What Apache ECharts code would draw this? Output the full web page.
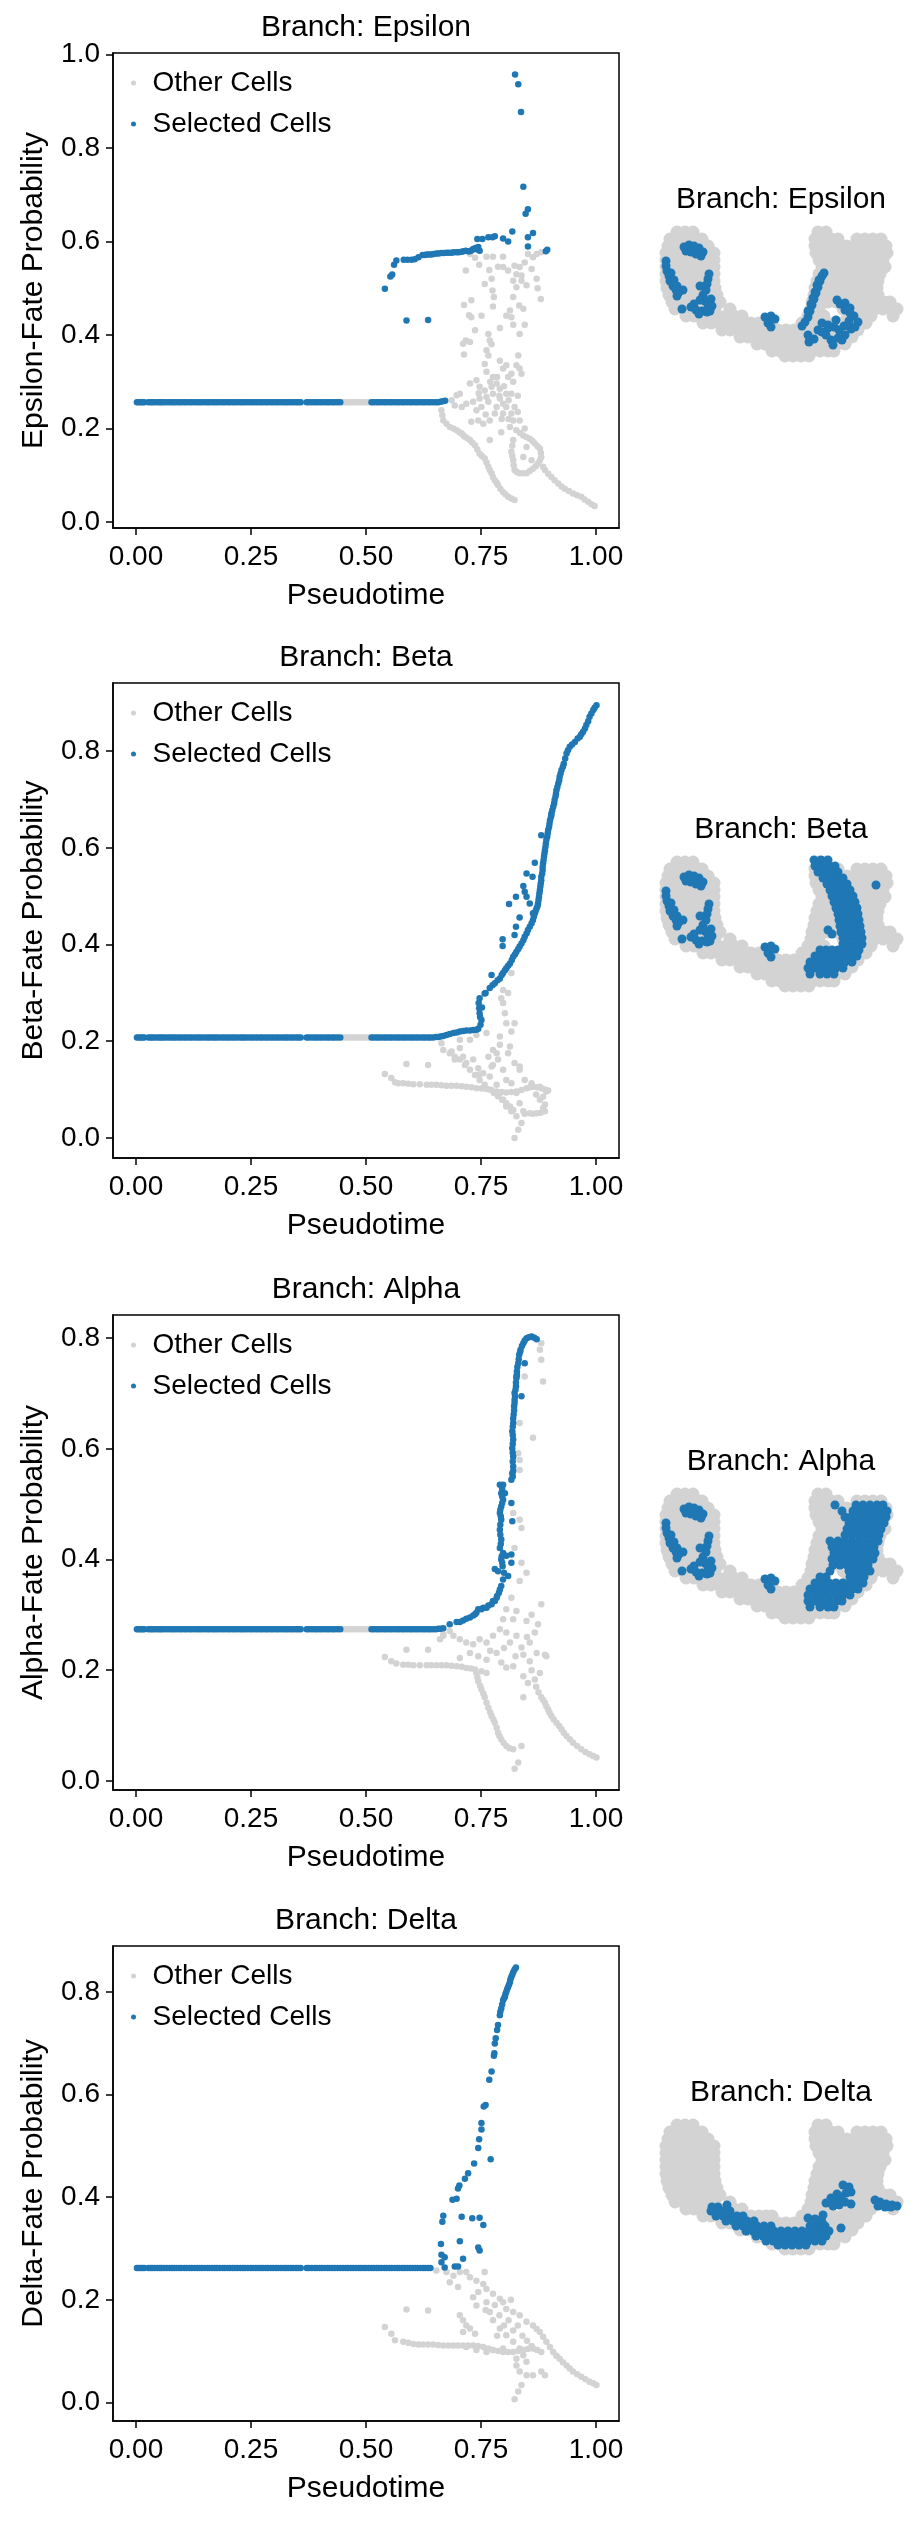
<!DOCTYPE html>
<html>
<head>
<meta charset="utf-8">
<title>Branch fate probabilities</title>
<script src="https://cdn.jsdelivr.net/npm/echarts@6/dist/echarts.min.js"></script>
<style>
  html, body { margin: 0; padding: 0; background: #fff; }
  #main { width: 923px; height: 2521px; }
</style>
</head>
<body>
<div id="main"></div>
<script>
// ---------------- data ----------------
var branches = ['Epsilon', 'Beta', 'Alpha', 'Delta'];
var xTicks = [0, 0.25, 0.5, 0.75, 1];
var yTicks = [
  [0, 0.2, 0.4, 0.6, 0.8, 1.0],
  [0, 0.2, 0.4, 0.6, 0.8],
  [0, 0.2, 0.4, 0.6, 0.8],
  [0, 0.2, 0.4, 0.6, 0.8]
];

// pseudotime of the early (undecided) cells, selected in every branch
var earlyX = [0.002,0.006,0.010,0.014,0.018,
  0.027,0.032,0.036,0.041,0.047,0.052,0.056,0.061,0.067,0.073,0.078,0.083,0.088,0.094,0.099,
  0.105,0.110,0.116,0.121,0.127,0.133,0.138,0.143,0.149,0.155,0.160,0.166,0.171,0.176,0.182,
  0.188,0.193,0.199,0.204,0.210,0.215,0.221,0.227,0.232,0.237,0.243,0.249,0.254,0.260,0.265,
  0.271,0.276,0.282,0.287,0.293,0.298,0.304,0.309,0.315,0.321,0.326,0.331,0.337,0.342,0.348,
  0.353,0.358,
  0.371,0.376,0.382,0.388,0.393,0.399,0.404,0.410,0.416,0.421,0.427,0.432,0.438,0.444,
  0.512,0.517,0.523,0.528,0.534,0.540,0.545,0.551,0.556,0.562,0.568,0.573,0.579,0.584,0.590,
  0.596,0.601,0.607,0.612,0.618,0.624,0.629,0.635,0.640];
// early cells only selected for Delta
var midX = [0.450,0.456,0.461,0.467,0.472,0.478,0.484,0.489,0.495,0.500,0.506];
// fate probability of the early cells in each branch
var baseProb = [0.256, 0.208, 0.274, 0.262];

var epsilonSelected = [
  [0.646,0.256],[0.652,0.256],[0.657,0.256],[0.662,0.257],[0.667,0.258],[0.672,0.259],
  [0.824,0.957],[0.831,0.936],[0.837,0.877],[0.842,0.717],[0.852,0.669],[0.847,0.659],
  [0.818,0.621],[0.863,0.618],[0.852,0.609],[0.852,0.589],[0.894,0.582],[0.891,0.579],
  [0.809,0.600],[0.798,0.606],[0.742,0.605],[0.753,0.605],[0.766,0.609],[0.775,0.609],[0.780,0.611],
  [0.623,0.571],[0.632,0.572],[0.642,0.572],[0.653,0.574],[0.664,0.575],[0.675,0.576],[0.686,0.576],
  [0.697,0.577],[0.708,0.578],[0.717,0.580],[0.726,0.579],[0.733,0.584],[0.740,0.583],[0.747,0.580],
  [0.744,0.588],[0.738,0.586],[0.614,0.566],[0.628,0.571],[0.637,0.572],[0.647,0.573],[0.658,0.574],
  [0.669,0.575],[0.680,0.576],[0.691,0.577],[0.702,0.577],[0.712,0.579],[0.722,0.579],[0.730,0.581],
  [0.606,0.562],[0.599,0.561],[0.590,0.561],[0.582,0.561],[0.566,0.559],[0.561,0.550],[0.557,0.529],
  [0.553,0.525],[0.541,0.499],[0.588,0.431],[0.635,0.432]
];
var epsilonOther = [
  [0.726,0.573],[0.737,0.565],[0.746,0.550],[0.762,0.567],[0.776,0.567],[0.768,0.539],[0.787,0.546],
  [0.798,0.567],[0.798,0.545],[0.809,0.538],[0.823,0.548],[0.834,0.545],[0.845,0.555],[0.852,0.573],
  [0.863,0.566],[0.871,0.573],[0.881,0.577],[0.860,0.541],[0.717,0.538],[0.827,0.530],[0.838,0.527],
  [0.758,0.509],[0.773,0.520],[0.775,0.495],[0.778,0.481],[0.776,0.461],[0.820,0.516],[0.827,0.502],
  [0.820,0.481],[0.838,0.516],[0.849,0.506],[0.871,0.520],[0.873,0.500],[0.880,0.477],[0.713,0.464],
  [0.729,0.474],[0.724,0.442],[0.729,0.438],[0.751,0.441],[0.805,0.441],[0.813,0.452],[0.816,0.438],
  [0.833,0.463],[0.842,0.456],[0.820,0.422],[0.845,0.422],[0.834,0.402],[0.791,0.415],[0.766,0.402],
  [0.769,0.388],[0.737,0.410],[0.717,0.388],[0.711,0.381],[0.726,0.385],[0.773,0.380],[0.762,0.367],
  [0.766,0.356],[0.713,0.358],[0.758,0.338],[0.762,0.321],[0.791,0.345],[0.798,0.328],[0.805,0.335],
  [0.816,0.317],[0.831,0.356],[0.827,0.335],[0.834,0.328],[0.838,0.317],
  [0.726,0.296],[0.740,0.303],[0.747,0.289],[0.758,0.281],[0.773,0.289],[0.784,0.296],[0.791,0.285],
  [0.805,0.274],[0.816,0.274],[0.809,0.310],[0.776,0.310],[0.762,0.267],[0.747,0.264],[0.733,0.257],
  [0.704,0.274],[0.697,0.271],[0.686,0.260],[0.693,0.249],[0.708,0.246],[0.718,0.253],[0.664,0.239],
  [0.668,0.217],[0.682,0.203],[0.697,0.196],[0.708,0.189],[0.715,0.182],[0.729,0.214],[0.744,0.217],
  [0.755,0.210],[0.769,0.217],[0.780,0.232],[0.784,0.246],[0.798,0.232],[0.805,0.246],[0.816,0.232],
  [0.823,0.246],[0.820,0.217],[0.834,0.217],[0.794,0.192],[0.769,0.175],[0.766,0.257],[0.791,0.264],
  [0.798,0.253],[0.776,0.274],[0.751,0.246],[0.740,0.239],
  [0.790,0.270],[0.800,0.290],[0.810,0.260],[0.820,0.300],[0.830,0.270],[0.785,0.310],[0.770,0.300],
  [0.795,0.220],[0.810,0.220],[0.830,0.235],[0.845,0.200],[0.760,0.230],[0.745,0.275],
  [0.666,0.228],[0.675,0.210],[0.690,0.200],[0.703,0.192],[0.712,0.185],[0.720,0.179],
  [0.726,0.175],[0.731,0.170],[0.737,0.164],[0.742,0.155],[0.747,0.146],[0.752,0.141],[0.758,0.136],
  [0.762,0.127],[0.766,0.118],[0.769,0.111],[0.773,0.104],[0.776,0.096],[0.780,0.089],[0.784,0.084],
  [0.787,0.079],[0.792,0.071],[0.798,0.064],[0.803,0.059],[0.809,0.054],[0.816,0.050],[0.823,0.047],
  [0.813,0.203],[0.827,0.196],[0.835,0.190],[0.842,0.185],[0.849,0.181],[0.856,0.178],[0.862,0.173],
  [0.867,0.168],[0.873,0.162],[0.878,0.157],[0.880,0.148],[0.881,0.139],[0.878,0.132],[0.874,0.125],
  [0.869,0.119],[0.863,0.114],[0.856,0.109],[0.849,0.104],[0.841,0.104],[0.834,0.104],[0.828,0.107],
  [0.823,0.111],[0.821,0.121],[0.820,0.132],[0.818,0.141],[0.816,0.150],[0.818,0.163],[0.820,0.175],
  [0.849,0.160],[0.860,0.132],[0.842,0.139],
  [0.885,0.118],[0.889,0.111],[0.896,0.103],[0.903,0.096],[0.910,0.089],[0.918,0.082],[0.925,0.076],
  [0.932,0.071],[0.941,0.066],[0.950,0.061],[0.959,0.057],[0.968,0.054],[0.975,0.048],[0.983,0.043],
  [0.990,0.038],[0.997,0.034]
];

var betaSelected = [
  [0.646,0.208],[0.652,0.209],[0.657,0.209],[0.662,0.210],[0.668,0.211],[0.675,0.213],[0.682,0.215],
  [0.690,0.217],[0.697,0.218],[0.704,0.220],[0.711,0.221],[0.718,0.222],[0.726,0.222],[0.733,0.223],
  [0.740,0.224],[0.744,0.226],
  [0.749,0.234],[0.751,0.244],[0.747,0.258],[0.745,0.279],[0.747,0.289],[0.758,0.299],[0.769,0.310],
  [0.780,0.320],[0.791,0.330],[0.798,0.341],[0.805,0.351],[0.813,0.361],[0.820,0.375],[0.827,0.385],
  [0.834,0.396],[0.842,0.409],[0.849,0.423],[0.856,0.437],[0.863,0.451],[0.867,0.465],[0.871,0.475],
  [0.874,0.485],[0.876,0.499],[0.878,0.513],[0.880,0.527],[0.881,0.540],[0.884,0.554],[0.885,0.568],
  [0.887,0.582],[0.889,0.595],[0.891,0.609],[0.894,0.623],[0.896,0.637],[0.899,0.650],[0.902,0.664],
  [0.905,0.678],[0.909,0.692],[0.912,0.706],[0.914,0.719],[0.918,0.733],[0.921,0.747],[0.925,0.761],
  [0.930,0.774],[0.936,0.795],[0.943,0.809],[0.954,0.819],[0.965,0.830],[0.972,0.840],[0.979,0.854],
  [0.986,0.871],[0.994,0.885],[1.001,0.895],
  [0.748,0.250],[0.746,0.268],[0.752,0.270],[0.760,0.300],[0.775,0.316],[0.786,0.326],[0.795,0.337],
  [0.802,0.347],[0.809,0.356],[0.817,0.368],[0.824,0.380],[0.831,0.391],[0.838,0.402],[0.845,0.416],
  [0.852,0.430],[0.860,0.444],[0.865,0.458],[0.869,0.470],[0.873,0.480],[0.875,0.492],[0.877,0.506],
  [0.879,0.520],[0.881,0.533],[0.883,0.547],[0.884,0.561],[0.886,0.575],[0.888,0.589],[0.890,0.602],
  [0.892,0.616],[0.895,0.630],[0.898,0.643],[0.900,0.657],[0.903,0.671],[0.907,0.685],[0.910,0.699],
  [0.913,0.712],[0.916,0.726],[0.920,0.740],[0.923,0.754],[0.928,0.768],[0.933,0.785],[0.939,0.802],
  [0.948,0.814],[0.960,0.826],[0.968,0.835],[0.976,0.847],[0.983,0.862],[0.990,0.878],[0.997,0.890],
  [0.881,0.626],[0.867,0.569],[0.849,0.547],[0.862,0.540],[0.842,0.521],[0.845,0.509],[0.826,0.499],
  [0.811,0.484],[0.849,0.499],[0.834,0.456],[0.826,0.437],[0.823,0.420],[0.797,0.411],[0.797,0.397],
  [0.773,0.337],[0.903,0.668],[0.856,0.485],[0.863,0.465]
];
var betaOther = [
  [0.798,0.306],[0.794,0.289],[0.798,0.279],[0.802,0.258],[0.805,0.237],[0.823,0.237],[0.816,0.220],
  [0.791,0.210],[0.762,0.217],[0.740,0.213],[0.726,0.203],[0.704,0.203],[0.664,0.196],[0.668,0.182],
  [0.686,0.179],[0.704,0.186],[0.693,0.162],[0.711,0.168],[0.718,0.155],[0.733,0.162],[0.744,0.144],
  [0.755,0.134],[0.769,0.127],[0.776,0.151],[0.784,0.175],[0.787,0.162],[0.798,0.141],[0.805,0.120],
  [0.816,0.113],[0.827,0.093],[0.834,0.072],[0.842,0.055],[0.856,0.051],[0.871,0.051],[0.889,0.055],
  [0.889,0.069],[0.878,0.079],[0.892,0.096],[0.878,0.106],[0.860,0.113],[0.845,0.120],[0.834,0.141],
  [0.834,0.148],[0.823,0.155],[0.809,0.175],[0.813,0.189],[0.791,0.193],[0.776,0.182],[0.766,0.168],
  [0.773,0.148],[0.747,0.131],[0.816,0.341],[0.809,0.300],
  [0.845,0.050],[0.863,0.050],[0.880,0.052],[0.885,0.062],[0.885,0.085],[0.870,0.090],
  [0.541,0.132],[0.555,0.124],[0.563,0.115],[0.570,0.113],[0.581,0.113],[0.592,0.112],[0.603,0.111],
  [0.617,0.111],[0.632,0.110],[0.642,0.110],[0.653,0.110],[0.664,0.109],[0.675,0.108],[0.686,0.108],
  [0.697,0.108],[0.708,0.107],[0.718,0.106],[0.729,0.105],[0.740,0.103],[0.751,0.102],[0.762,0.101],
  [0.773,0.099],[0.784,0.096],[0.795,0.095],[0.805,0.094],[0.816,0.095],[0.827,0.096],[0.838,0.099],
  [0.849,0.103],[0.856,0.105],[0.863,0.106],[0.872,0.105],[0.881,0.103],[0.889,0.100],[0.896,0.098],
  [0.588,0.153],[0.635,0.151],
  [0.784,0.110],[0.791,0.093],[0.798,0.079],[0.805,0.065],[0.816,0.055],[0.827,0.045],[0.838,0.031],
  [0.831,0.017],[0.823,0.000],
  [0.682,0.175],[0.693,0.168],[0.704,0.162],[0.715,0.151],[0.726,0.141],[0.737,0.130],[0.747,0.120],
  [0.758,0.110],[0.769,0.100],[0.778,0.093],[0.787,0.086],[0.796,0.079],[0.805,0.072],[0.813,0.065],
  [0.820,0.058]
];

var alphaSelected = [
  [0.646,0.274],[0.652,0.274],[0.657,0.275],[0.662,0.275],
  [0.668,0.276],[0.682,0.283],[0.697,0.287],[0.711,0.290],[0.726,0.295],[0.737,0.301],[0.744,0.310],
  [0.755,0.313],[0.766,0.317],[0.776,0.325],[0.784,0.331],[0.789,0.340],[0.794,0.352],[0.798,0.364],
  [0.800,0.376],[0.797,0.388],[0.794,0.400],[0.798,0.412],[0.791,0.421],[0.794,0.436],[0.791,0.454],
  [0.794,0.472],[0.791,0.484],[0.794,0.496],[0.798,0.508],[0.794,0.520],[0.798,0.535],[0.816,0.544],
  [0.818,0.556],[0.820,0.568],[0.820,0.586],[0.818,0.601],[0.820,0.617],[0.818,0.632],[0.820,0.647],
  [0.821,0.662],[0.822,0.677],[0.823,0.689],[0.823,0.701],[0.826,0.713],[0.827,0.728],[0.828,0.740],
  [0.831,0.755],[0.833,0.770],[0.836,0.779],[0.842,0.791],[0.849,0.800],[0.860,0.803],[0.871,0.798],
  [0.704,0.287],[0.718,0.293],[0.733,0.299],[0.740,0.304],[0.751,0.310],[0.762,0.313],[0.773,0.319],
  [0.780,0.325],[0.785,0.334],[0.791,0.346],
  [0.819,0.550],[0.820,0.560],[0.819,0.577],[0.819,0.593],[0.819,0.609],[0.819,0.625],[0.819,0.640],
  [0.820,0.655],[0.822,0.670],[0.823,0.683],[0.824,0.695],[0.825,0.707],[0.826,0.720],[0.828,0.734],
  [0.829,0.748],[0.832,0.762],[0.835,0.775],[0.839,0.786],[0.845,0.796],[0.854,0.802],[0.866,0.801],
  [0.796,0.394],[0.795,0.406],[0.793,0.428],[0.792,0.445],[0.792,0.463],[0.793,0.478],[0.792,0.490],
  [0.796,0.502],[0.796,0.514],[0.796,0.528],
  [0.780,0.383],[0.787,0.379],[0.805,0.407],[0.816,0.409],[0.816,0.394],[0.818,0.469],[0.791,0.535],
  [0.802,0.520],[0.816,0.502],[0.838,0.695],[0.845,0.755],[0.827,0.731],[0.809,0.370]
];
var alphaOther = [
  [0.881,0.791],[0.878,0.779],[0.881,0.761],[0.885,0.722],[0.845,0.731],[0.863,0.620],[0.834,0.647],
  [0.831,0.592],[0.834,0.580],[0.834,0.562],[0.820,0.484],[0.834,0.472],[0.838,0.457],[0.823,0.421],
  [0.838,0.394],[0.849,0.376],[0.834,0.361],[0.881,0.319],[0.816,0.331],[0.827,0.307],[0.805,0.310],
  [0.798,0.292],[0.820,0.292],[0.849,0.289],[0.874,0.283],[0.867,0.268],[0.856,0.250],[0.805,0.268],
  [0.791,0.274],[0.776,0.262],[0.762,0.250],[0.747,0.256],[0.733,0.247],[0.718,0.250],[0.704,0.256],
  [0.690,0.262],[0.668,0.262],[0.661,0.256],[0.704,0.222],[0.726,0.231],[0.744,0.225],[0.762,0.219],
  [0.784,0.231],[0.794,0.214],[0.805,0.205],[0.820,0.207],[0.842,0.228],[0.856,0.216],[0.871,0.231],
  [0.889,0.228],[0.892,0.225],[0.842,0.189],[0.852,0.177],[0.867,0.183],[0.878,0.195],[0.842,0.151],
  [0.813,0.250],[0.827,0.262],[0.838,0.241],[0.800,0.240],[0.770,0.235],[0.825,0.225],[0.850,0.260],
  [0.860,0.300],[0.860,0.200],[0.870,0.170],[0.875,0.160],
  [0.881,0.151],[0.885,0.146],[0.889,0.141],[0.892,0.135],[0.896,0.129],[0.899,0.123],[0.903,0.117],
  [0.908,0.111],[0.914,0.105],[0.920,0.099],[0.925,0.093],[0.930,0.087],[0.936,0.081],[0.943,0.075],
  [0.950,0.069],[0.959,0.063],[0.968,0.057],[0.977,0.052],[0.986,0.048],[0.994,0.045],[1.001,0.042],
  [0.541,0.224],[0.555,0.216],[0.566,0.212],[0.581,0.210],[0.592,0.210],[0.603,0.209],[0.617,0.209],
  [0.632,0.209],[0.642,0.209],[0.653,0.209],[0.664,0.209],[0.675,0.209],[0.686,0.208],[0.697,0.207],
  [0.708,0.206],[0.718,0.204],[0.728,0.203],[0.737,0.201],[0.751,0.198],[0.762,0.195],
  [0.588,0.237],[0.635,0.237],
  [0.740,0.195],[0.742,0.187],[0.744,0.180],[0.748,0.172],[0.751,0.165],[0.755,0.158],[0.758,0.151],
  [0.762,0.141],[0.766,0.132],[0.770,0.124],[0.773,0.117],[0.777,0.111],[0.780,0.105],[0.784,0.096],
  [0.787,0.087],[0.790,0.081],[0.794,0.075],[0.799,0.069],[0.805,0.063],[0.812,0.059],[0.820,0.057],
  [0.838,0.063],[0.831,0.033],[0.823,0.022],
  [0.668,0.265],[0.682,0.271]
];

var deltaSelected = [
  [0.826,0.848],[0.823,0.844],[0.820,0.839],[0.818,0.834],[0.816,0.830],[0.814,0.825],[0.813,0.820],
  [0.811,0.815],[0.809,0.810],[0.807,0.806],[0.805,0.801],[0.803,0.796],[0.802,0.791],[0.800,0.788],
  [0.798,0.784],[0.796,0.776],[0.794,0.768],[0.792,0.762],[0.791,0.755],[0.787,0.736],[0.785,0.726],
  [0.782,0.710],[0.780,0.700],[0.779,0.681],[0.778,0.676],[0.773,0.645],[0.768,0.629],[0.760,0.580],
  [0.756,0.577],[0.751,0.545],[0.751,0.532],[0.746,0.513],[0.744,0.496],[0.735,0.466],[0.771,0.474],
  [0.722,0.447],[0.715,0.436],[0.703,0.423],[0.700,0.417],[0.697,0.397],[0.688,0.395],[0.668,0.364],
  [0.666,0.352],[0.708,0.362],[0.731,0.359],[0.747,0.360],[0.755,0.346],[0.663,0.309],[0.704,0.314],
  [0.744,0.302],[0.747,0.296],[0.664,0.288],[0.671,0.283],[0.711,0.280],[0.664,0.273],[0.671,0.263],
  [0.693,0.265],[0.700,0.265]
];
var deltaOther = [
  [0.653,0.257],[0.675,0.254],[0.690,0.247],[0.704,0.254],[0.718,0.254],[0.726,0.244],[0.740,0.237],
  [0.758,0.254],[0.755,0.231],[0.762,0.221],[0.744,0.215],[0.733,0.205],[0.740,0.189],[0.762,0.195],
  [0.776,0.212],[0.791,0.202],[0.798,0.195],[0.805,0.182],[0.820,0.176],[0.834,0.170],[0.849,0.157],
  [0.863,0.150],[0.871,0.143],[0.878,0.137],[0.885,0.128],[0.892,0.118],[0.900,0.108],[0.907,0.098],
  [0.914,0.091],[0.921,0.085],[0.928,0.078],[0.936,0.072],[0.943,0.066],[0.950,0.060],[0.959,0.055],
  [0.968,0.050],[0.977,0.045],[0.986,0.040],[0.994,0.037],[1.001,0.034],
  [0.682,0.234],[0.700,0.225],[0.704,0.170],[0.711,0.160],[0.718,0.150],[0.726,0.144],[0.737,0.134],
  [0.711,0.137],[0.769,0.176],[0.776,0.160],[0.791,0.144],[0.805,0.131],[0.820,0.118],[0.834,0.105],
  [0.827,0.085],[0.827,0.072],[0.834,0.060],[0.849,0.053],[0.863,0.053],[0.881,0.060],[0.889,0.053],
  [0.849,0.079],[0.842,0.092],[0.798,0.105],[0.776,0.102],[0.762,0.098],[0.740,0.102],[0.718,0.108],
  [0.780,0.190],[0.790,0.170],[0.810,0.160],[0.800,0.150],[0.820,0.140],[0.830,0.150],[0.840,0.130],
  [0.850,0.120],[0.860,0.110],[0.815,0.200],[0.760,0.180],[0.785,0.130],
  [0.541,0.147],[0.555,0.134],[0.563,0.121],[0.581,0.118],[0.592,0.116],[0.603,0.114],[0.614,0.113],
  [0.624,0.113],[0.635,0.113],[0.646,0.113],[0.657,0.112],[0.668,0.111],[0.679,0.111],[0.690,0.111],
  [0.700,0.111],[0.711,0.111],[0.722,0.111],[0.733,0.111],[0.744,0.110],[0.755,0.108],[0.766,0.105],
  [0.776,0.102],[0.787,0.100],[0.798,0.098],[0.809,0.098],[0.820,0.098],[0.831,0.100],[0.842,0.102],
  [0.852,0.104],[0.863,0.105],[0.872,0.102],[0.881,0.098],
  [0.588,0.181],[0.635,0.179],
  [0.838,0.034],[0.831,0.021],[0.823,0.006]
];

// UMAP embedding (pixel-read coordinates, rows of [UMAP2, [UMAP1 ...]])
var umapAllRows = [
  [52,[27,35,43,168,176]],
  [59,[20,28,36,44,52,165,173,181,188,207,215,223,231]],
  [66,[18,26,34,42,50,58,165,173,181,189,197,205,213,221,229,236]],
  [73,[16,24,32,40,48,56,64,166,174,182,190,198,206,214,222,230,237]],
  [80,[16,24,32,40,48,56,64,169,177,185,193,201,209,217,225,233]],
  [87,[16,24,32,40,48,56,64,172,180,188,196,204,212,220,228,235]],
  [94,[16,24,32,40,48,56,64,169,177,185,193,201,209,217,225,230]],
  [101,[16,24,32,40,48,56,64,167,175,183,191,199,207,215,223,228]],
  [108,[17,25,33,41,49,57,65,165,173,181,189,197,205,213,221,227]],
  [115,[19,27,35,43,51,59,67,164,172,180,188,196,204,212,220,228]],
  [122,[22,30,38,46,54,62,70,162,170,178,186,194,202,210,218,226,234,240]],
  [129,[25,33,41,49,57,65,80,161,169,193,201,209,217,225,233,241,247]],
  [136,[36,44,52,60,68,76,84,92,158,166,174,198,206,214,221,243]],
  [143,[53,61,69,77,85,93,101,109,116,122,152,160,168,176,184,192,200,208,216]],
  [150,[72,80,88,96,104,112,120,128,136,144,152,160,168,176,184,192,200,208]],
  [157,[90,98,106,114,122,130,138,146,154,162,170,178,186,194,202]],
  [164,[107,115,123,131,139,147,155,163,171,179,187,195]],
  [171,[122,130,138,146,154,162,170,178,184]],
  [176,[135,143,151,159]]
];
// early cells on the left lobe (selected in Epsilon, Beta, Alpha)
var umapEarly = [
  [34,67],[39,65],[44,66],[49,68],[53,72],[51,76],[46,74],[41,72],[36,71],
  [16,81],[16,86],[17,91],[19,96],[20,101],[23,106],[26,110],[29,112],[21,93],[24,100],[27,106],
  [27,116],[33,110],[32,129],
  [59,94],[58,99],[57,104],[50,106],[56,110],[53,115],[50,120],[55,121],[58,125],[61,119],[62,126],
  [44,124],[41,127],[46,130],[52,131],[57,132],[49,134],[60,131],
  [115,137],[121,136],[125,139],[118,143],[121,147]
];
var umapEpsilon = [
  [152,146],[155,142],[158,137],[160,131],[162,125],[164,119],[166,113],[168,107],[170,101],[172,96],
  [174,93],[158,131],[161,124],[163,118],[165,112],[167,105],[169,100],
  [158,155],[159,162],[164,159],[172,152],[178,148],[184,147],[189,150],[194,146],[199,141],[204,136],
  [208,142],[201,149],[195,155],[188,158],[181,160],[176,155],[187,120],[190,124],[195,123],[195,130],
  [200,128],[186,140],[172,143],[168,150],[183,165],[178,145],[192,160],[200,133],[205,147]
];
var umapBetaRows = [
  [50,[164,171,178]],[56,[165,172,179,185]],[62,[168,175,182,188]],[68,[173,180,187,193]],
  [74,[177,184,191,197]],[80,[180,187,194,200]],[86,[182,189,196,203]],[92,[184,191,198,205]],
  [98,[186,193,200,207]],[104,[188,195,202,208]],[110,[189,196,203,209]],[116,[190,197,204,210]],
  [122,[191,198,205,211]],[128,[193,200,207,212]],[134,[193,200,207,212]],
  [140,[170,176,182,188,195,202,209]],[146,[165,172,179,186,193,200,207]],
  [152,[160,167,174,181,188,195,202]],[158,[158,165,172,179,186,193]],[164,[160,170,177,184]],
  [75,[226]],[124,[182]],[120,[178]],[160,[160]]
];
var umapAlphaRows = [
  [63,[185,206,213,220,227,233]],[69,[192,203,210,217,224,231,237]],[75,[195,201,208,215,222,229,236]],
  [81,[199,206,213,220,227,234]],[87,[197,204,211,218,225,231]],[93,[195,202,209,216,223,229]],
  [99,[180,188,195,202,209,216,223,228]],[105,[182,189,196,203,210,217,224]],
  [111,[184,191,198,205,212,219,225]],[117,[182,189,196,203,210,217,223]],
  [123,[183,190,197,204,211,218]],[129,[180,199,206,213,220]],[135,[170,176,200,207,214]],
  [141,[165,172,179,186,193,200,207,213]],[147,[160,167,174,181,188,195,202,208]],
  [153,[158,165,172,179,186,193,200]],[159,[158,165,172,179,186,192]],[165,[160,170,178,184]]
];
var umapDeltaRows = [
  [134,[62,68]],[138,[61,67,74,80]],[143,[66,73,80,87,93]],[148,[76,83,90,97,104]],
  [153,[86,93,100,107,114,121,160,167,175]],
  [158,[96,103,110,117,124,131,138,145,152,159,166,173,179]],
  [163,[106,113,120,127,134,141,148,155,162,169,176]],
  [168,[116,123,130,137,144,151,158,165,172]],[172,[128,135,142,149,156]],
  [146,[165]],[149,[172]],[145,[158]],[155,[191]],[132,[77]],
  [112,[193]],[114,[199]],[119,[201]],[120,[196]],[124,[191]],[128,[186]],[127,[181]],[130,[176]],
  [133,[183]],[132,[189]],[129,[195]],[131,[201]],[142,[173]],[147,[166]],[125,[181]],[121,[187]],
  [127,[225]],[129,[230]],[131,[236]],[132,[242]],[133,[247,228]],[134,[235,241]]
];

// ---------------- chart ----------------
function rowsToPoints(rows) {
  var pts = [];
  rows.forEach(function (r) {
    r[1].forEach(function (x) { pts.push([x, r[0]]); });
  });
  return pts;
}
function atProb(xs, p) {
  return xs.map(function (x) { return [x, p]; });
}

var FONT = '"Liberation Sans", Arial, sans-serif';
var GRAY = '#d3d3d3';
var BLUE = '#1f77b4';

var panelTop = [53, 683, 1315, 1946];
var umapShift = [0, 630, 1262, 1893];
var yLimits = [[-0.013, 1.003], [-0.0415, 0.941], [-0.0166, 0.842], [-0.0364, 0.890]];

var selectedSets = [epsilonSelected, betaSelected, alphaSelected, deltaSelected];
var otherSets = [epsilonOther, betaOther, alphaOther, deltaOther];
var umapSelected = [
  umapEarly.concat(umapEpsilon),
  umapEarly.concat(rowsToPoints(umapBetaRows)),
  umapEarly.concat(rowsToPoints(umapAlphaRows)),
  rowsToPoints(umapDeltaRows)
];
var umapAll = rowsToPoints(umapAllRows);

var grids = [], xAxes = [], yAxes = [], series = [], legends = [], graphics = [];
var axisStroke = { color: '#000', width: 1.5 };

branches.forEach(function (b, i) {
  grids.push({
    left: 113, top: panelTop[i], width: 506, height: 475,
    show: true, borderColor: '#000', borderWidth: 1.5, backgroundColor: 'transparent',
    outerBoundsMode: 'none', containLabel: false
  });
  xAxes.push({
    gridIndex: i, type: 'value', min: -0.05, max: 1.05,
    splitLine: { show: false }, axisLine: { show: true, onZero: false, lineStyle: axisStroke },
    axisTick: { show: true, length: 7, lineStyle: axisStroke, customValues: xTicks },
    axisLabel: {
      customValues: xTicks, margin: 15, fontSize: 28, color: '#000', fontFamily: FONT,
      formatter: function (v) { return v.toFixed(2); }
    },
    name: 'Pseudotime', nameLocation: 'middle', nameGap: 53,
    nameTextStyle: { fontSize: 30, color: '#000', fontFamily: FONT }
  });
  yAxes.push({
    gridIndex: i, type: 'value', min: yLimits[i][0], max: yLimits[i][1],
    splitLine: { show: false }, axisLine: { show: true, onZero: false, lineStyle: axisStroke },
    axisTick: { show: true, length: 7, lineStyle: axisStroke, customValues: yTicks[i] },
    axisLabel: {
      customValues: yTicks[i], margin: 13, fontSize: 28, color: '#000', fontFamily: FONT,
      formatter: function (v) { return v.toFixed(1); }
    },
    name: b + '-Fate Probability', nameLocation: 'middle', nameGap: 64,
    nameTextStyle: { fontSize: 30, color: '#000', fontFamily: FONT }
  });

  var sel = atProb(earlyX, baseProb[i]).concat(selectedSets[i]);
  var oth = otherSets[i].slice();
  if (b === 'Delta') {
    sel = sel.concat(atProb(midX, baseProb[i]));
  } else {
    oth = oth.concat(atProb(midX, baseProb[i]));
  }
  series.push({
    name: 'Other Cells', type: 'scatter', xAxisIndex: i, yAxisIndex: i,
    symbolSize: 6.5, itemStyle: { color: GRAY, opacity: 1 }, data: oth, silent: true
  });
  series.push({
    name: 'Selected Cells', type: 'scatter', xAxisIndex: i, yAxisIndex: i,
    symbolSize: 6.5, itemStyle: { color: BLUE, opacity: 1 }, data: sel, silent: true
  });

  legends.push({
    orient: 'vertical', left: 126, top: panelTop[i] + 11,
    icon: 'circle', itemWidth: 28, itemHeight: 5, itemGap: 13,
    selectedMode: false,
    textStyle: { fontSize: 28, color: '#000', fontFamily: FONT },
    data: ['Other Cells', 'Selected Cells']
  });

  graphics.push({
    type: 'text', x: 366, y: panelTop[i] - 25,
    style: { text: 'Branch: ' + b, fill: '#000', font: '30px ' + FONT,
      textAlign: 'center', textVerticalAlign: 'middle' }
  });
  graphics.push({
    type: 'text', x: 781, y: 200 + umapShift[i],
    style: { text: 'Branch: ' + b, fill: '#000', font: '30px ' + FONT,
      textAlign: 'center', textVerticalAlign: 'middle' }
  });
});

// embedding panels
branches.forEach(function (b, i) {
  var k = 4 + i;
  grids.push({ left: 650, top: 180 + umapShift[i], width: 270, height: 190, show: false,
    outerBoundsMode: 'none', containLabel: false });
  xAxes.push({ gridIndex: k, type: 'value', min: 0, max: 270, show: false });
  yAxes.push({ gridIndex: k, type: 'value', min: 0, max: 190, inverse: true, show: false });
  series.push({
    name: 'Other Cells', type: 'scatter', xAxisIndex: k, yAxisIndex: k,
    symbolSize: 13, itemStyle: { color: GRAY, opacity: 1 }, data: umapAll, silent: true
  });
  series.push({
    name: 'Selected Cells', type: 'scatter', xAxisIndex: k, yAxisIndex: k,
    symbolSize: 9, itemStyle: { color: BLUE, opacity: 1 }, data: umapSelected[i], silent: true
  });
});

var chart = echarts.init(document.getElementById('main'));
chart.setOption({
  animation: false,
  backgroundColor: '#fff',
  textStyle: { fontFamily: FONT },
  grid: grids,
  xAxis: xAxes,
  yAxis: yAxes,
  legend: legends,
  graphic: graphics,
  series: series
});
</script>
</body>
</html>
